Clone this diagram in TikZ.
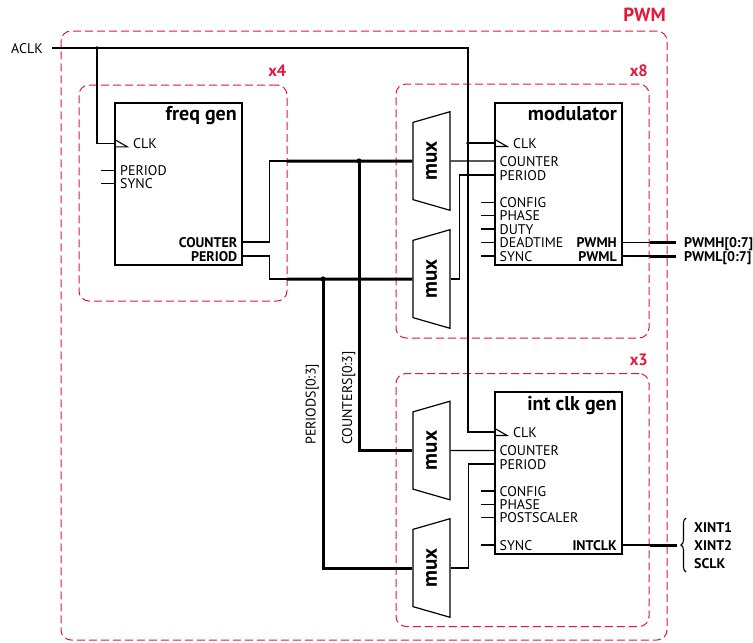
\documentclass[tikz,border=0pt]{standalone}
\usepackage{fontspec}
\setmainfont{PT Sans}
\usepackage{tikz}
\usetikzlibrary{shapes.geometric, positioning, calc, decorations.pathreplacing}
\definecolor{pwmred}{RGB}{225,25,60}

\begin{document}
\begin{tikzpicture}[
    x=1pt, y=-1pt,
    block/.style={rectangle, draw=black, line width=1.4pt, minimum width=127pt, minimum height=162pt, inner sep=0pt},
    muxbox/.style={trapezium, trapezium angle=64, trapezium stretches=true, rotate=90, minimum width=99pt, minimum height=37pt, draw=black, line width=1.2pt, inner sep=0pt, font=\fontsize{21}{21}\selectfont\bfseries},
    frame/.style={rectangle, rounded corners=10pt, draw=pwmred, line width=1pt, dash pattern=on 8pt off 4pt},
    portlbl/.style={inner sep=0pt, text height=10pt, text depth=0pt, font=\fontsize{14}{14}\selectfont},
    portbold/.style={portlbl, font=\fontsize{14}{14}\selectfont\bfseries},
    title/.style={inner sep=0pt, anchor=base east, font=\fontsize{20}{20}\selectfont\bfseries},
    grplbl/.style={inner sep=0pt, anchor=east, text=pwmred, font=\fontsize{16.5}{16.5}\selectfont\bfseries},
    wire/.style={line width=1.1pt},
    bus/.style={line width=3pt}
]
\useasboundingbox (0,0) rectangle (753,643);

% Frames
\node (pwmframe) [frame, minimum width=606pt, minimum height=609pt] at (364,335.5) {};
\node (x4frame) [frame, minimum width=208pt, minimum height=216pt] at (183,193) {};
\node (x8frame) [frame, minimum width=253pt, minimum height=254pt] at (522.5,211) {};
\node (x3frame) [frame, minimum width=253pt, minimum height=253pt] at (522.5,500) {};

\node (pwmlbl) [grplbl, font=\fontsize{19}{19}\selectfont\bfseries] at (666,15) {PWM};
\node (x4lbl) [grplbl] at (286.5,71) {x4};
\node (x8lbl) [grplbl] at (648,70.5) {x8};
\node (x3lbl) [grplbl] at (648,360) {x3};

% Blocks
\node (freqgen) [block] at (178.5,184) {};
\node (modulator) [block] at (558.3,184) {};
\node (intclk) [block] at (558.3,473) {};

\node (fg-title) [title] at (237,120.5) {freq gen};
\node (m-title) [title] at (617,120.5) {modulator};
\node (ic-title) [title] at (617,410) {int clk gen};

% Ports of freq gen
\node (fg-clk) [portlbl, anchor=west] at (133,143.3) {CLK};
\node (fg-per) [portlbl, anchor=west] at (120,170.7) {PERIOD};
\node (fg-sync) [portlbl, anchor=west] at (120,183.3) {SYNC};
\node (fg-cnt) [portbold, anchor=east] at (237.5,242) {COUNTER};
\node (fg-perout) [portbold, anchor=east] at (237.5,256) {PERIOD};

% Ports of modulator
\node (m-clk) [portlbl, anchor=west] at (513,143) {CLK};
\node (m-cnt) [portlbl, anchor=west] at (499.5,161) {COUNTER};
\node (m-per) [portlbl, anchor=west] at (499.5,175) {PERIOD};
\node (m-cfg) [portlbl, anchor=west] at (499.5,202.7) {CONFIG};
\node (m-phase) [portlbl, anchor=west] at (499.5,215.5) {PHASE};
\node (m-duty) [portlbl, anchor=west] at (499.5,229) {DUTY};
\node (m-dead) [portlbl, anchor=west] at (499.5,242.3) {DEADTIME};
\node (m-sync) [portlbl, anchor=west] at (499.5,256) {SYNC};
\node (m-pwmh) [portbold, anchor=east] at (617,242.3) {PWMH};
\node (m-pwml) [portbold, anchor=east] at (617,256) {PWML};

% Ports of int clk gen
\node (ic-clk) [portlbl, anchor=west] at (513,432) {CLK};
\node (ic-cnt) [portlbl, anchor=west] at (499.5,450.5) {COUNTER};
\node (ic-per) [portlbl, anchor=west] at (499.5,464) {PERIOD};
\node (ic-cfg) [portlbl, anchor=west] at (499.5,491) {CONFIG};
\node (ic-phase) [portlbl, anchor=west] at (499.5,504.3) {PHASE};
\node (ic-post) [portlbl, anchor=west] at (499.5,517.7) {POSTSCALER};
\node (ic-sync) [portlbl, anchor=west] at (499.5,545) {SYNC};
\node (ic-out) [portbold, anchor=east] at (617,545) {INTCLK};

% Muxes
\node (mux1) [muxbox] at (431.5,161) {mux};
\node (mux2) [muxbox] at (431.5,279) {mux};
\node (mux3) [muxbox] at (431.5,450.5) {mux};
\node (mux4) [muxbox] at (431.5,568) {mux};

% Outside signals
\coordinate (aclk-in) at (52,48);
\node (aclk) [portlbl, left=9pt of aclk-in] {ACLK};
\node (pwmh-out) [portbold, anchor=west] at (684,242.3) {PWMH[0:7]};
\node (pwml-out) [portbold, anchor=west] at (684,256) {PWML[0:7]};
\node (xint1) [portbold, anchor=west] at (694,527) {XINT1};
\node (xint2) [portbold, anchor=west] at (694,545) {XINT2};
\node (sclk) [portbold, anchor=west] at (694,563.3) {SCLK};
\coordinate (brace-top) at (686,518);
\coordinate (brace-bot) at (686,572);

% Clock
\coordinate (clk-tap) at (97,48);
\coordinate (clk-turn) at (468,48);
\draw [wire] (aclk-in) -- (clk-turn) |- (ic-clk.west -| intclk.west);
\draw [wire] (clk-tap) |- (fg-clk.west -| freqgen.west);
\draw [wire] (clk-turn |- m-clk.west) -- (m-clk.west -| modulator.west);
\fill (clk-tap) circle (1.8pt);
\fill (clk-turn |- m-clk.west) circle (1.8pt);
\draw [wire] (fg-clk.west -| freqgen.west) ++(0,-4) -- ++(13,7.5) -- ++(-13,0);
\draw [wire] (m-clk.west -| modulator.west) ++(0,-4) -- ++(13,7.5) -- ++(-13,0);
\draw [wire] (ic-clk.west -| intclk.west) ++(0,-4) -- ++(13,7.5) -- ++(-13,0);

% Unused inputs
\draw [wire] (fg-per.west -| freqgen.west) -- ++(-13,0);
\draw [wire] (fg-sync.west -| freqgen.west) -- ++(-13,0);
\draw [wire] (m-cfg.west -| modulator.west) -- ++(-13,0);
\draw [wire] (m-phase.west -| modulator.west) -- ++(-13,0);
\draw [wire] (m-duty.west -| modulator.west) -- ++(-13,0);
\draw [wire] (m-dead.west -| modulator.west) -- ++(-13,0);
\draw [wire] (m-sync.west -| modulator.west) -- ++(-13,0);
\draw [wire] (ic-cfg.west -| intclk.west) -- ++(-13,0);
\draw [wire] (ic-phase.west -| intclk.west) -- ++(-13,0);
\draw [wire] (ic-post.west -| intclk.west) -- ++(-13,0);
\draw [wire] (ic-sync.west -| intclk.west) -- ++(-13,0);

% Buses
\coordinate (cnt-bus) at (287,161);
\coordinate (per-bus) at (287,279);
\coordinate (cnt-tap) at (359,161);
\coordinate (per-tap) at (323,279);
\draw [wire] (fg-cnt.east -| freqgen.east) -- ++(27,0) |- (cnt-bus);
\draw [wire] (fg-perout.east -| freqgen.east) -- ++(27,0) |- (per-bus);
\draw [bus] (cnt-bus) -- (mux1.north);
\draw [bus] (per-bus) -- (mux2.north);
\draw [bus] (cnt-tap) |- (mux3.north);
\draw [bus] (per-tap) |- (mux4.north);
\fill (cnt-tap) circle (2.6pt);
\fill (per-tap) circle (2.6pt);
\node (cnt-lbl) [portlbl, rotate=90, anchor=west] at (347,445) {COUNTERS[0:3]};
\node (per-lbl) [portlbl, rotate=90, anchor=west] at (310.5,445) {PERIODS[0:3]};

% Mux outputs
\draw [wire] (mux1.south) -- (m-cnt.west -| modulator.west);
\draw [wire] (mux2.south) -- ++(9,0) |- (m-per.west -| modulator.west);
\draw [wire] (mux3.south) -- (ic-cnt.west -| intclk.west);
\draw [wire] (mux4.south) -- ++(18,0) |- (ic-per.west -| intclk.west);

% Outputs
\draw [wire] (m-pwmh.east -| modulator.east) -- (m-pwmh.east -| x8frame.east);
\draw [wire] (m-pwml.east -| modulator.east) -- (m-pwml.east -| x8frame.east);
\draw [wire] (ic-out.east -| intclk.east) -- (ic-out.east -| x3frame.east);
\draw [bus] (m-pwmh.east -| x8frame.east) -- ([xshift=-8pt]pwmh-out.west);
\draw [bus] (m-pwml.east -| x8frame.east) -- ([xshift=-8pt]pwml-out.west);
\draw [bus] (ic-out.east -| x3frame.east) -- ++(27,0);
\draw [wire, decorate, decoration={brace, amplitude=5pt}] (brace-bot) -- (brace-top);

\end{tikzpicture}
\end{document}
